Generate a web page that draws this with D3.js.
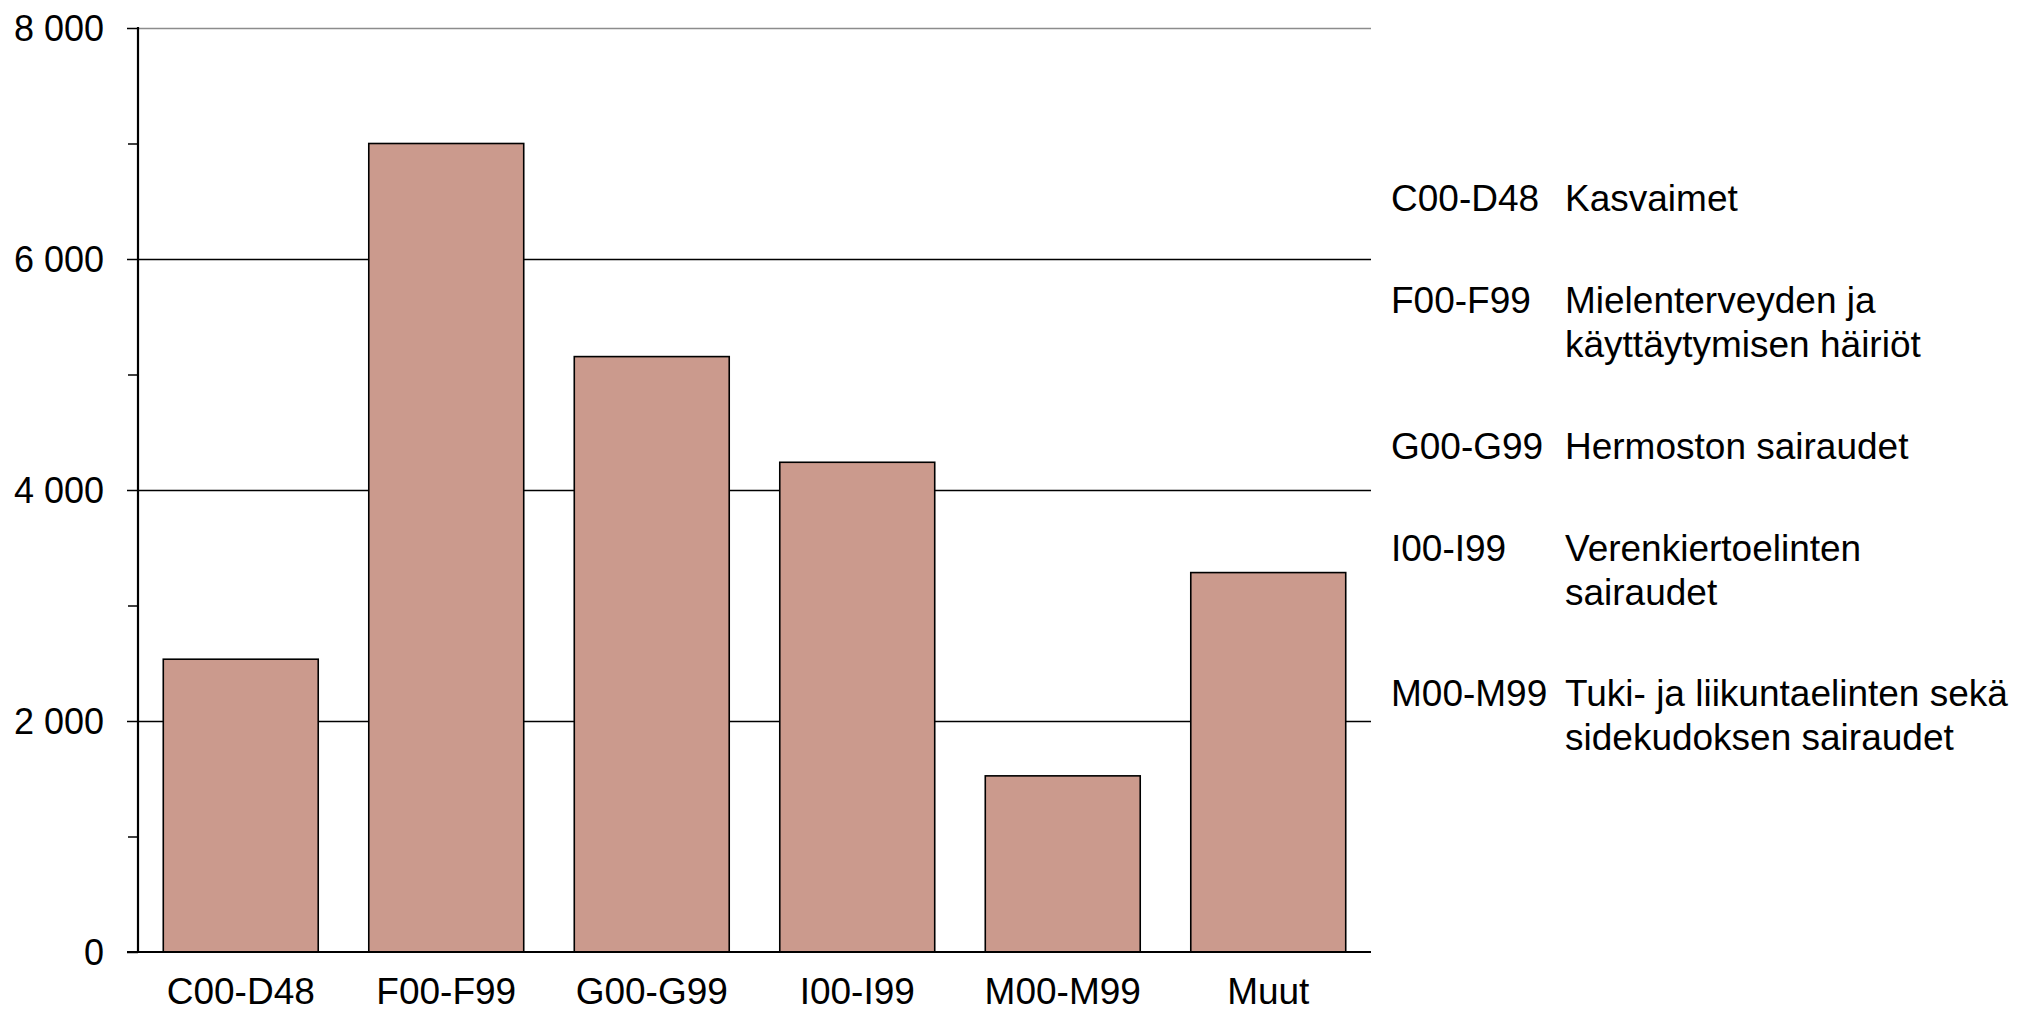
<!DOCTYPE html>
<html>
<head>
<meta charset="utf-8">
<script src="https://cdn.jsdelivr.net/npm/d3@7/dist/d3.min.js"></script>
<style>
  html, body { margin: 0; padding: 0; background: #fff; }
  svg { display: block; }
  text { font-family: "Liberation Sans", Arial, sans-serif; fill: #000; }
</style>
</head>
<body>
<svg id="chart" width="2019" height="1013"></svg>
<script>
const categories = ["C00-D48", "F00-F99", "G00-G99", "I00-I99", "M00-M99", "Muut"];
const values = [2535, 7000, 5155, 4240, 1525, 3285];
const yMajorTicks = [0, 2000, 4000, 6000, 8000];
const yMinorTicks = [1000, 3000, 5000, 7000];
const legendCodes = ["C00-D48", "F00-F99", "G00-G99", "I00-I99", "M00-M99"];
const legendTexts = [
  ["Kasvaimet"],
  ["Mielenterveyden ja", "käyttäytymisen häiriöt"],
  ["Hermoston sairaudet"],
  ["Verenkiertoelinten", "sairaudet"],
  ["Tuki- ja liikuntaelinten sekä", "sidekudoksen sairaudet"]
];

const svg = d3.select("#chart");
const plotLeft = 138, plotRight = 1371, plotTop = 28, plotBottom = 952;

const x = d3.scaleBand().domain(categories).range([plotLeft, plotRight])
  .paddingInner(0.246).paddingOuter(0.123);
const y = d3.scaleLinear().domain([0, 8000]).range([plotBottom, plotTop]);

const fmt = d3.formatLocale({decimal: ",", thousands: "\u00a0", grouping: [3], currency: ["", " €"]}).format(",d");

// gridlines
svg.append("g").selectAll("line").data(yMajorTicks.filter(d => d > 0)).join("line")
  .attr("x1", plotLeft).attr("x2", plotRight)
  .attr("y1", d => Math.round(y(d)) + 0.5).attr("y2", d => Math.round(y(d)) + 0.5)
  .attr("stroke", d => d === 8000 ? "#8c8c8c" : "#000")
  .attr("stroke-width", 1.3);

// bars
svg.append("g").selectAll("rect").data(values).join("rect")
  .attr("x", (d, i) => x(categories[i]))
  .attr("width", x.bandwidth())
  .attr("y", d => y(d))
  .attr("height", d => y(0) - y(d))
  .attr("fill", "#CB9A8D")
  .attr("stroke", "#000")
  .attr("stroke-width", 1.6);

// y axis major
const yAxis = svg.append("g").attr("transform", `translate(${plotLeft},0)`)
  .call(d3.axisLeft(y).tickValues(yMajorTicks).tickSize(11).tickPadding(23).tickFormat(fmt));
yAxis.select(".domain").remove();
yAxis.selectAll(".tick line").attr("stroke", "#000").attr("stroke-width", 1.5);
yAxis.selectAll(".tick text").attr("font-size", 36).attr("font-family", "Liberation Sans, Arial, sans-serif").attr("dy", "0.36em");

// y axis minor
const yMinor = svg.append("g").attr("transform", `translate(${plotLeft},0)`)
  .call(d3.axisLeft(y).tickValues(yMinorTicks).tickSize(10).tickFormat(""));
yMinor.select(".domain").remove();
yMinor.selectAll(".tick line").attr("stroke", "#000").attr("stroke-width", 1.5);

// axis lines
svg.append("line").attr("x1", plotLeft).attr("x2", plotLeft).attr("y1", plotTop - 1).attr("y2", plotBottom + 1)
  .attr("stroke", "#000").attr("stroke-width", 2.2);
svg.append("line").attr("x1", 127).attr("x2", plotRight).attr("y1", plotBottom).attr("y2", plotBottom)
  .attr("stroke", "#000").attr("stroke-width", 2.2);

// x labels
const xAxis = svg.append("g").attr("transform", `translate(0,${plotBottom})`)
  .call(d3.axisBottom(x).tickSize(0).tickPadding(0));
xAxis.select(".domain").remove();
xAxis.selectAll(".tick text").attr("font-size", 37).attr("font-family", "Liberation Sans, Arial, sans-serif")
  .attr("y", 52).attr("dy", 0);

// legend
const legendBaselines = [211, 313, 459, 561, 706];
const lg = svg.append("g");
legendCodes.forEach((c, i) => {
  lg.append("text").attr("x", 1391).attr("y", legendBaselines[i]).attr("font-size", 37).text(c);
  legendTexts[i].forEach((t, j) => {
    lg.append("text").attr("x", 1565).attr("y", legendBaselines[i] + j * 44).attr("font-size", 37).text(t);
  });
});
</script>
</body>
</html>
